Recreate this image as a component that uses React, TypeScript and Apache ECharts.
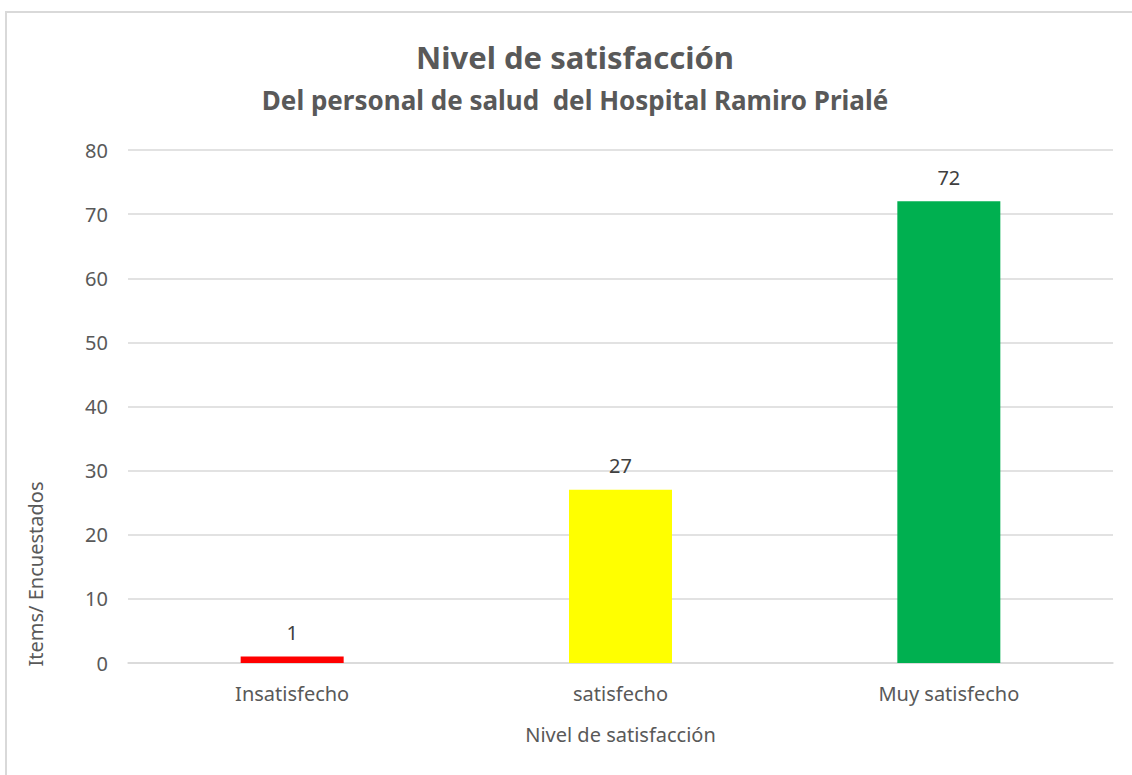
import React, { useEffect, useRef } from "react";
import * as echarts from "echarts";

const categories = ["Insatisfecho", "satisfecho", "Muy satisfecho"];
const values = [1, 27, 72];
const barColors = ["#FF0000", "#FFFF00", "#00B050"];
const yTicks = { min: 0, max: 80, interval: 10 };

const FONT = "'Noto Sans', 'Open Sans', sans-serif";

export default function App() {
  const ref = useRef<HTMLDivElement>(null);
  useEffect(() => {
    if (!ref.current) return;
    const chart = echarts.init(ref.current, null, { renderer: "svg" });
    chart.setOption({
      animation: false,
      backgroundColor: "#ffffff",
      textStyle: { fontFamily: FONT },
      grid: { left: 128, right: 19, top: 150, bottom: 112 },
      graphic: [
        {
          type: "rect",
          shape: { x: 6, y: 12, width: 1140, height: 780 },
          style: { fill: "none", stroke: "#d9d9d9", lineWidth: 2 },
          silent: true,
        },
        {
          type: "text",
          x: 575,
          y: 57,
          style: {
            text: "Nivel de satisfacción",
            fill: "#595959",
            font: `bold 31px ${FONT}`,
            textAlign: "center",
            textVerticalAlign: "middle",
          },
        },
        {
          type: "text",
          x: 575,
          y: 100,
          style: {
            text: "Del personal de salud  del Hospital Ramiro Prialé",
            fill: "#595959",
            font: `bold 26px ${FONT}`,
            textAlign: "center",
            textVerticalAlign: "middle",
          },
        },
        {
          type: "text",
          x: 35,
          y: 574,
          rotation: Math.PI / 2,
          style: {
            text: "Items/ Encuestados",
            fill: "#595959",
            font: `20px ${FONT}`,
            textAlign: "center",
            textVerticalAlign: "middle",
          },
        },
      ],
      xAxis: {
        type: "category",
        data: categories,
        name: "Nivel de satisfacción",
        nameLocation: "middle",
        nameGap: 61,
        nameTextStyle: { color: "#595959", fontSize: 20, fontFamily: FONT },
        axisLine: { show: true, lineStyle: { color: "#d9d9d9", width: 1.5 } },
        axisTick: { show: false },
        axisLabel: { color: "#595959", fontSize: 20, margin: 20, fontFamily: FONT },
      },
      yAxis: {
        type: "value",
        min: yTicks.min,
        max: yTicks.max,
        interval: yTicks.interval,
        axisLine: { show: false },
        axisTick: { show: false },
        axisLabel: { color: "#595959", fontSize: 20, margin: 20, fontFamily: FONT },
        splitLine: { lineStyle: { color: "#d9d9d9", width: 1.5 } },
      },
      series: [
        {
          type: "bar",
          data: values.map((v, i) => ({ value: v, itemStyle: { color: barColors[i] } })),
          barWidth: 103,
          label: {
            show: true,
            position: "top",
            distance: 14,
            color: "#404040",
            fontSize: 20,
            fontFamily: FONT,
          },
        },
      ],
    });
    return () => chart.dispose();
  }, []);
  return (
    <div
      ref={ref}
      style={{ position: "fixed", left: 0, top: 0, width: 1132, height: 775 }}
    />
  );
}
